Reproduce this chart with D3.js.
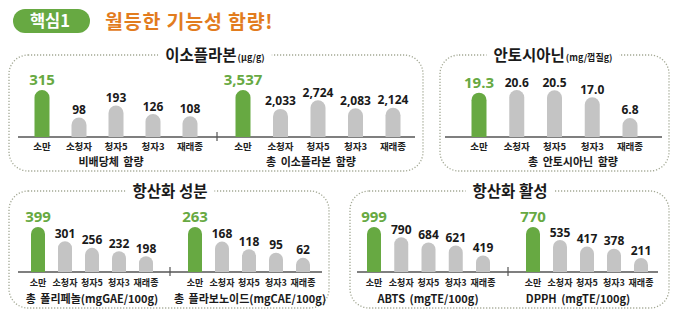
<!DOCTYPE html>
<html><head><meta charset="utf-8">
<script src="https://cdn.jsdelivr.net/npm/d3@7"></script>
<style>
html,body{margin:0;padding:0;background:#fff;}
svg{display:block;font-family:"Noto Sans CJK KR","Noto Sans",sans-serif;}
</style></head>
<body>
<svg id="c" width="680" height="324"></svg>
<script>
// ---- data ----
const categories = ["소만", "소청자", "청자5", "청자3", "재래종"];
const aglycone = [315, 98, 193, 126, 108];
const totalIsoflavone = [3537, 2033, 2724, 2083, 2124];
const anthocyanin = [19.3, 20.6, 20.5, 17.0, 6.8];
const polyphenol = [399, 301, 256, 232, 198];
const flavonoid = [263, 168, 118, 95, 62];
const abts = [999, 790, 684, 621, 419];
const dpph = [770, 535, 417, 378, 211];
const headerBadge = "핵심1";
const headerTitle = "월등한 기능성 함량!";
const panelTitles = [["이소플라본", "(μg/g)"], ["안토시아닌", "(mg/껍질g)"], ["항산화 성분", ""], ["항산화 활성", ""]];
const subLabels = ["비배당체 함량", "총 이소플라본 함량", "총 안토시아닌 함량", "총 폴리페놀(mgGAE/100g)", "총 플라보노이드(mgCAE/100g)", "ABTS (mgTE/100g)", "DPPH (mgTE/100g)"];

const GREEN = "#67a942", GRAY = "#c4c4c4", ORANGE = "#e27c1e";
const svg = d3.select("#c");

// header
svg.append("rect").attr("x", 13).attr("y", 9).attr("width", 77).attr("height", 24).attr("rx", 12).attr("fill", GREEN);
svg.append("text").attr("x", 50).attr("y", 27).attr("text-anchor", "middle").attr("fill", "#fff")
  .attr("font-size", 16.5).attr("font-weight", "bold").text(headerBadge);
svg.append("text").attr("x", 105).attr("y", 28.5).attr("fill", ORANGE)
  .attr("font-size", 19.5).attr("font-weight", "bold").attr("letter-spacing", 0.8).text(headerTitle);

// panels
const panels = [
  {x: 9, y: 55, w: 414, h: 116, cx: 215},
  {x: 440, y: 55, w: 229, h: 116, cx: 553},
  {x: 9, y: 191, w: 320, h: 117, cx: 170},
  {x: 350, y: 191, w: 319, h: 117, cx: 510}
];
panels.forEach((p, i) => {
  svg.append("rect").attr("x", p.x).attr("y", p.y).attr("width", p.w).attr("height", p.h)
    .attr("rx", 19).attr("fill", "none").attr("stroke", "#a3a894").attr("stroke-width", 1.3)
    .attr("stroke-dasharray", "1.2,1.8");
  const g = svg.append("g");
  const t = g.append("text").attr("y", p.y + 6).attr("fill", "#1a1a1a").attr("font-weight", "bold");
  t.append("tspan").attr("font-size", 15.5).text(panelTitles[i][0]);
  if (panelTitles[i][1]) t.append("tspan").attr("font-size", 9).attr("dx", 1).text(panelTitles[i][1]);
  const bb = t.node().getBBox();
  t.attr("x", p.cx - bb.width / 2);
  g.insert("rect", "text").attr("x", p.cx - bb.width / 2 - 7).attr("y", p.y - 4)
    .attr("width", bb.width + 14).attr("height", 8).attr("fill", "#fff");
});

// sub charts
const fmtInt = d3.format(",");
const fmtDec = d3.format(".1f");
const charts = [
  {vals: aglycone, x0: 42, x1: 190, base: 137, hMax: 47, floor: -55, fmt: fmtInt, sub: 0, subX: 111, catSize: 9.5, subY: 165.5, catY: 149.5, barW: 15},
  {vals: totalIsoflavone, x0: 243, x1: 393, base: 137, hMax: 47, floor: -200, fmt: fmtInt, sub: 1, subX: 311, catSize: 9.5, subY: 165.5, catY: 149.5, barW: 15},
  {vals: anthocyanin, x0: 479, x1: 630, base: 137, hMax: 47, floor: -2.6, fmt: fmtDec, sub: 2, subX: 573, catSize: 9.5, subY: 165.5, catY: 149.5, barW: 15},
  {vals: polyphenol, x0: 38, x1: 146, base: 272, hMax: 45, floor: 90, fmt: fmtInt, sub: 3, subX: 92, catSize: 9, subY: 302.5, catY: 285.5, barW: 14},
  {vals: flavonoid, x0: 195, x1: 303, base: 272, hMax: 45, floor: -30, fmt: fmtInt, sub: 4, subX: 250, catSize: 9, subY: 302.5, catY: 285.5, barW: 14},
  {vals: abts, x0: 374, x1: 483, base: 272, hMax: 45, floor: 80, fmt: fmtInt, sub: 5, subX: 428, catSize: 9, subY: 302.5, catY: 285.5, barW: 14},
  {vals: dpph, x0: 533, x1: 641, base: 272, hMax: 45, floor: -41, fmt: fmtInt, sub: 6, subX: 578, catSize: 9, subY: 302.5, catY: 285.5, barW: 14}
];

// baselines and separators
const baseLines = [[18, 415, 137], [445, 662, 137], [18, 322, 272], [357, 658, 272]];
baseLines.forEach(b => svg.append("line").attr("x1", b[0]).attr("x2", b[1]).attr("y1", b[2]).attr("y2", b[2])
  .attr("stroke", "#555").attr("stroke-width", 1.3));
[[217, 137], [170, 272], [508, 272]].forEach(s => svg.append("line").attr("x1", s[0]).attr("x2", s[0])
  .attr("y1", s[1] - 5).attr("y2", s[1] + 4).attr("stroke", "#555").attr("stroke-width", 1.2));

function barPath(cx, w, top, base) {
  const r = w / 2;
  const x0 = cx - r, x1 = cx + r;
  const p = d3.path();
  p.moveTo(x0, base);
  p.lineTo(x0, top + r);
  p.arc(cx, top + r, r, Math.PI, 0);
  p.lineTo(x1, base);
  p.closePath();
  return p.toString();
}

charts.forEach(c => {
  const x = d3.scalePoint().domain(categories).range([c.x0, c.x1]);
  const y = d3.scaleLinear().domain([c.floor, d3.max(c.vals)]).range([c.base, c.base - c.hMax]);
  const g = svg.append("g");
  const data = categories.map((k, i) => ({k, v: c.vals[i], top: i === 0}));
  g.selectAll("path.bar").data(data).join("path").attr("class", "bar")
    .attr("d", d => barPath(x(d.k), c.barW, y(d.v), c.base))
    .attr("fill", d => d.top ? GREEN : GRAY);
  g.selectAll("text.val").data(data).join("text").attr("class", "val")
    .attr("x", d => x(d.k))
    .attr("y", d => y(d.v) - (d.top ? 5 : 3.5))
    .attr("text-anchor", "middle")
    .attr("font-family", "'Open Sans','Noto Sans',sans-serif")
    .attr("font-weight", "bold")
    .attr("font-size", d => d.top ? 15 : 12)
    .attr("fill", d => d.top ? GREEN : "#1a1a1a")
    .text(d => c.fmt(d.v));
  g.selectAll("text.cat").data(data).join("text").attr("class", "cat")
    .attr("x", d => x(d.k)).attr("y", c.catY).attr("text-anchor", "middle")
    .attr("font-size", c.catSize).attr("font-weight", "bold").attr("fill", "#222")
    .text(d => d.k);
  g.append("text").attr("x", c.subX).attr("y", c.subY).attr("text-anchor", "middle")
    .attr("font-size", 11).attr("font-weight", "bold").attr("fill", "#1a1a1a")
    .attr("word-spacing", 2)
    .text(subLabels[c.sub]);
});
</script>
</body></html>
